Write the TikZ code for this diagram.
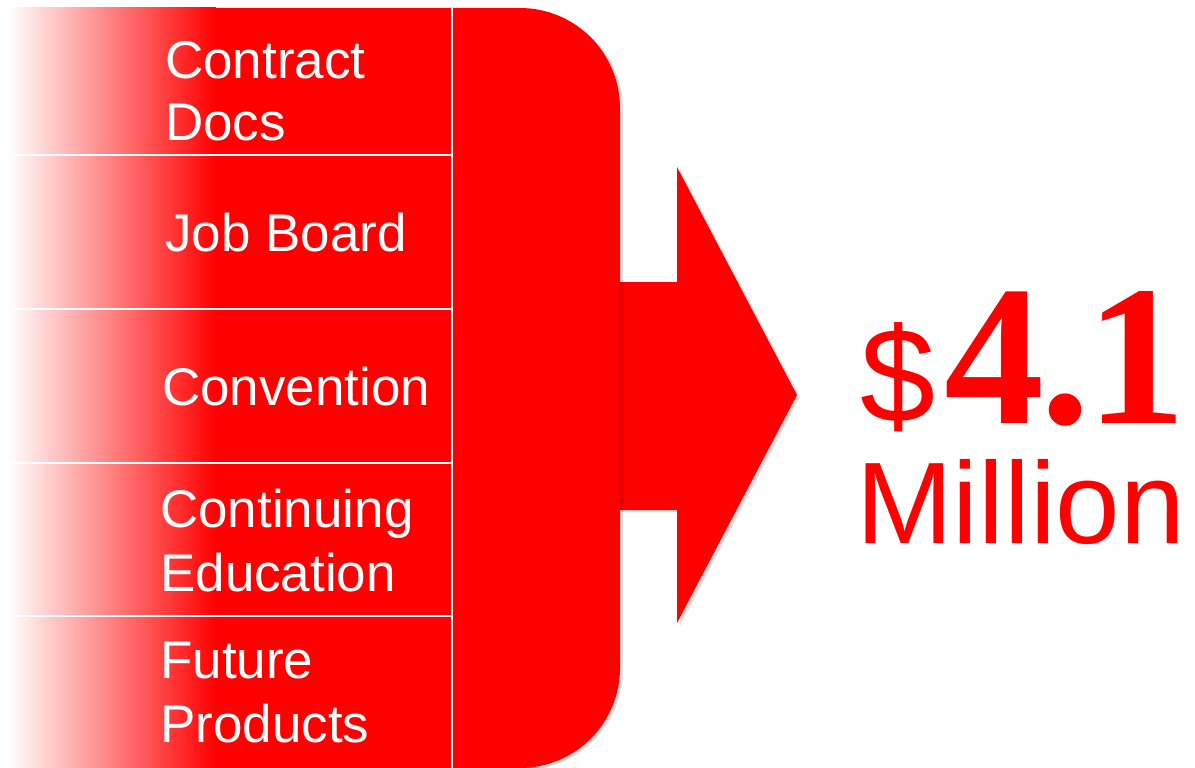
\documentclass[tikz,border=0pt]{standalone}
\usepackage{fontspec}
\setmainfont{Liberation Sans}
\newfontfamily\bandfont{Liberation Sans}
\newfontfamily\numfont{Liberation Serif}
\begin{document}
\begin{tikzpicture}[x=1pt,y=-1pt,
  bandtext/.style={anchor=base west, inner sep=0pt, text=white, font=\bandfont\fontsize{53}{62}\selectfont},
  sepline/.style={draw=white, line width=2pt},
  shadowfill/.style={fill=black, opacity=0.12},
  redfill/.style={fill=red}]
\useasboundingbox (0,0) rectangle (1195,768);
\fill[white] (0,0) rectangle (1195,768);
% arrow shadow
\fill[shadowfill] (622,284) -- (680,284) -- (680,170) -- (800,397) -- (680,626) -- (680,512) -- (622,512) -- cycle;
% arrow
\fill[redfill] (620,282) -- (677,282) -- (677,167) -- (797,395) -- (677,623) -- (677,510) -- (620,510) -- cycle;
% rounded block shadow
\fill[shadowfill, rounded corners=100pt] (300,10) -- (623,10) -- (623,770) -- (300,770);
% rounded block
\fill[redfill, rounded corners=100pt] (200,8) -- (620,8) -- (620,768) -- (200,768);
% bands
\fill[redfill] (214,8) rectangle (452,768);
\begin{scope}
  \clip (8,8) rectangle (216,768);
  \shade[left color=white, right color=red] (8,0) rectangle (216,770);
\end{scope}
% separators
\coordinate (vt) at (452,8);
\coordinate (vb) at (452,768);
\draw[sepline] (vt) -- (vb);
\foreach \yy/\nm in {155/a,309/b,463/c,616/d}{
  \coordinate (l\nm) at (10,\yy);
  \coordinate (r\nm) at (452,\yy);
  \draw[sepline] (l\nm) -- (r\nm);
}
% band labels
\node[bandtext] (t1a) at (165,78) {Contract};
\node[bandtext] (t1b) at (165,140) {Docs};
\node[bandtext] (t2) at (165,251) {Job Board};
\node[bandtext] (t3) at (162,405) {Convention};
\node[bandtext] (t4a) at (160,527) {Continuing};
\node[bandtext] (t4b) at (160,591) {Education};
\node[bandtext] (t5a) at (160,678) {Future};
\node[bandtext] (t5b) at (160,742) {Products};
% amount
\node[anchor=base west, inner sep=0pt, text=red, font=\fontsize{135}{140}\selectfont] (dollar) at (860,422) {\$};
\node[anchor=base west, inner sep=0pt, text=red, font=\numfont\bfseries\fontsize{200}{210}\selectfont] (amount) at (944,423) {4\kern-4pt.\kern-4pt1};
\node[anchor=base west, inner sep=0pt, text=red, font=\fontsize{116}{120}\selectfont] (million) at (856,543) {Million};
\end{tikzpicture}
\end{document}
